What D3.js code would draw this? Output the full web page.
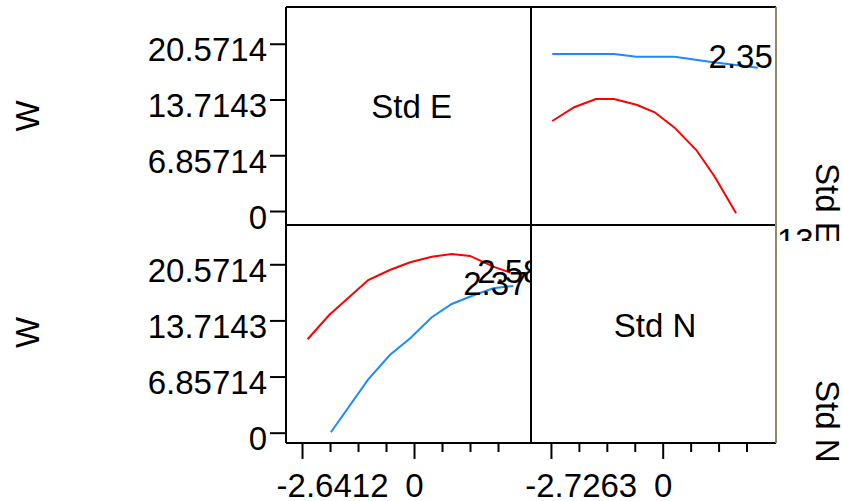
<!DOCTYPE html>
<html>
<head>
<meta charset="utf-8">
<script src="https://cdn.jsdelivr.net/npm/d3@7"></script>
<style>
  body { margin: 0; background: #fff; }
  svg text { font-family: "Liberation Sans", Arial, sans-serif; font-size: 33px; fill: #000; }
</style>
</head>
<body>
<div id="chart"></div>
<script>
'use strict';

// y ticks shared by both rows (W)
const yTickValues = [0, 6.85714, 13.7143, 20.5714];
const yTickLabels = ["0", "6.85714", "13.7143", "20.5714"];

// x ticks: left column (Std E) and right column (Std N)
const xTicksE = [-2.6412, 0];
const xMinorE = [-1.9809, -1.3206, -0.6603, 0.6603, 1.3206, 1.9809];
const xTicksN = [-2.7263, 0];
const xMinorN = [-2.0447, -1.3632, -0.6816, 0.6816, 1.3632, 2.0447];

// top-right cell: W against Std N
const topRedX = [-2.695, -2.16, -1.63, -1.19, -0.64, -0.195, 0.29, 0.82, 1.27, 1.79];
const topRedY = [11.07, 12.76, 13.78, 13.78, 13.07, 12.14, 10.25, 7.50, 4.22, -0.28];
const topBlueX = [-2.695, -1.19, -0.64, 0.29, 1.14, 2.32];
const topBlueY = [19.31, 19.31, 18.98, 18.98, 18.36, 17.63];

// bottom-left cell: W against Std E
const botRedX = [-2.51, -2.0, -1.08, -0.57, -0.09, 0.42, 0.89, 1.32, 1.87, 2.27];
const botRedY = [11.41, 14.38, 18.65, 19.87, 20.82, 21.50, 21.83, 21.59, 20.28, 19.55];
const botBlueX = [-1.96, -1.08, -0.57, -0.09, 0.42, 0.89, 1.36, 1.87, 2.34];
const botBlueY = [0.05, 6.52, 9.49, 11.53, 14.10, 15.72, 16.70, 17.64, 17.92];

const width = 843, height = 501;
const frameL = 286, frameMidX = 531, frameR = 776, frameT = 7, frameMidY = 225, frameB = 443;

const svg = d3.select("#chart").append("svg")
    .attr("width", width)
    .attr("height", height);

// scales
const xE = d3.scaleLinear().domain([-3.019, 2.759]).range([frameL, frameMidX]);
const xN = d3.scaleLinear().domain([-3.213, 2.764]).range([frameMidX, frameR]);
const yTop = d3.scaleLinear().domain([-1.72, 25.09]).range([frameMidY, frameT]);
const yBot = d3.scaleLinear().domain([-1.26, 25.37]).range([frameB, frameMidY]);

const defs = svg.append("defs");
defs.append("clipPath").attr("id", "clipBL")
    .append("rect").attr("x", frameL).attr("y", frameMidY).attr("width", frameMidX - frameL).attr("height", frameB - frameMidY);
defs.append("clipPath").attr("id", "clipTR")
    .append("rect").attr("x", frameMidX).attr("y", frameT).attr("width", frameR - frameMidX).attr("height", frameMidY - frameT);
defs.append("clipPath").attr("id", "clipSide")
    .append("rect").attr("x", frameR + 1).attr("y", 0).attr("width", 80).attr("height", 241);

// lines
function drawLine(xs, ys, xScale, yScale, color, clip) {
    const pts = xs.map((d, i) => [xScale(d), yScale(ys[i])]);
    svg.append("path")
        .attr("d", d3.line()(pts))
        .attr("fill", "none")
        .attr("stroke", color)
        .attr("stroke-width", 2)
        .attr("clip-path", "url(#" + clip + ")");
    return pts[pts.length - 1];
}

const topBlueEnd = drawLine(topBlueX, topBlueY, xN, yTop, "#1a8cff", "clipTR");
drawLine(topRedX, topRedY, xN, yTop, "#ff0000", "clipTR");
const botRedEnd = drawLine(botRedX, botRedY, xE, yBot, "#ff0000", "clipBL");
const botBlueEnd = drawLine(botBlueX, botBlueY, xE, yBot, "#1a8cff", "clipBL");

// end labels
svg.append("text").attr("x", topBlueEnd[0] + 15).attr("y", topBlueEnd[1] + 0.5)
    .attr("text-anchor", "end").attr("clip-path", "url(#clipTR)").text("2.35");
svg.append("text").attr("x", botRedEnd[0] - 33).attr("y", botRedEnd[1] + 10)
    .attr("clip-path", "url(#clipBL)").text("2.58");
svg.append("text").attr("x", botBlueEnd[0] - 50).attr("y", botBlueEnd[1] + 9)
    .attr("clip-path", "url(#clipBL)").text("2.37");

// frame
const frame = svg.append("g").attr("fill", "none").attr("stroke-width", 2);
frame.append("line").attr("x1", frameL).attr("x2", frameR).attr("y1", frameT).attr("y2", frameT).attr("stroke", "#000");
frame.append("line").attr("x1", frameL).attr("x2", frameR).attr("y1", frameMidY).attr("y2", frameMidY).attr("stroke", "#000");
frame.append("line").attr("x1", frameL).attr("x2", frameR).attr("y1", frameB).attr("y2", frameB).attr("stroke", "#000");
frame.append("line").attr("x1", frameL).attr("x2", frameL).attr("y1", frameT).attr("y2", frameB).attr("stroke", "#000");
frame.append("line").attr("x1", frameMidX).attr("x2", frameMidX).attr("y1", frameT).attr("y2", frameB).attr("stroke", "#000");
frame.append("line").attr("x1", frameR).attr("x2", frameR).attr("y1", frameT).attr("y2", frameB).attr("stroke", "#8f8a6a");

// y axes
function yAxis(scale) {
    const g = svg.append("g").attr("transform", "translate(" + frameL + ",0)")
        .call(d3.axisLeft(scale).tickValues(yTickValues)
            .tickFormat((d, i) => yTickLabels[i]).tickSize(16).tickPadding(3).tickSizeOuter(0));
    g.select(".domain").remove();
    g.attr("font-size", null).attr("font-family", null);
    g.selectAll(".tick line").attr("stroke", "#000").attr("stroke-width", 2);
    g.selectAll(".tick text").attr("dy", 17);
}
yAxis(yTop);
yAxis(yBot);

// x axes
function xAxis(scale, major, minor) {
    const gMinor = svg.append("g").attr("transform", "translate(0," + frameB + ")")
        .call(d3.axisBottom(scale).tickValues(minor).tickFormat("").tickSize(9).tickSizeOuter(0));
    gMinor.select(".domain").remove();
    gMinor.selectAll(".tick line").attr("stroke", "#000").attr("stroke-width", 2);

    const g = svg.append("g").attr("transform", "translate(0," + frameB + ")")
        .call(d3.axisBottom(scale).tickValues(major).tickFormat(d => d === 0 ? "0" : String(d)).tickSize(16).tickSizeOuter(0));
    g.select(".domain").remove();
    g.attr("font-size", null).attr("font-family", null);
    g.selectAll(".tick line").attr("stroke", "#000").attr("stroke-width", 2);
    g.selectAll(".tick text").attr("y", 54).attr("dy", 0);
    // first label sits just left of the zero label
    g.selectAll(".tick text").filter(d => d !== 0)
        .attr("text-anchor", "end")
        .attr("x", scale(0) - scale(major[0]) - 26);
}
xAxis(xE, xTicksE, xMinorE);
xAxis(xN, xTicksN, xMinorN);

// cell labels
svg.append("text").attr("x", 411.7).attr("y", 117.7).attr("text-anchor", "middle").text("Std E");
svg.append("text").attr("x", 655).attr("y", 336.7).attr("text-anchor", "middle").text("Std N");

// row labels
svg.append("text").attr("transform", "translate(39,116) rotate(-90)").attr("text-anchor", "middle").text("W");
svg.append("text").attr("transform", "translate(39,332.5) rotate(-90)").attr("text-anchor", "middle").text("W");

const side = svg.append("g").attr("clip-path", "url(#clipSide)");
side.append("text").attr("transform", "translate(816,163) rotate(90)").text("Std E");
side.append("text").attr("x", 777).attr("y", 252).text("13");
svg.append("text").attr("transform", "translate(816,380) rotate(90)").text("Std N");
</script>
</body>
</html>
